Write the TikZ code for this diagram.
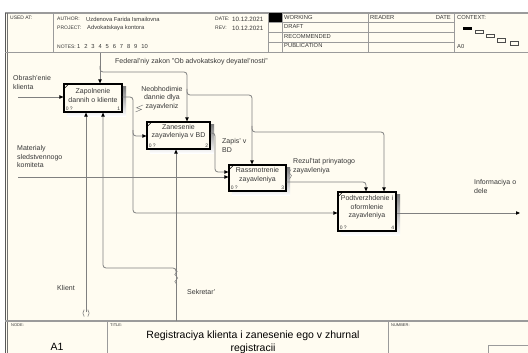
\documentclass[tikz,border=0pt]{standalone}
\usepackage{fontspec}
\setmainfont{Liberation Sans}
\usetikzlibrary{arrows.meta}
\pgfdeclarelayer{paperlayer}
\pgfdeclarelayer{shadelayer}
\pgfsetlayers{paperlayer,shadelayer,main}
\definecolor{paper}{RGB}{255,252,241}
\definecolor{wirec}{RGB}{128,128,128}
\definecolor{rulec}{RGB}{155,155,155}
\definecolor{shade}{RGB}{188,188,188}
\definecolor{ink}{RGB}{55,55,55}

\begin{document}
\begin{tikzpicture}[x=1pt,y=-1pt,
  wire/.style={draw=wirec, line width=0.8pt, rounded corners=3pt},
  flow/.style={wire, -{Triangle[length=4pt,width=3.4pt,color=black]}},
  act/.style={draw=black, line width=1.2pt, fill=paper, inner sep=0pt},
  acttext/.style={font=\fontsize{7}{8.5}\selectfont, align=center, inner sep=0pt, text=ink},
  tag/.style={font=\fontsize{5}{6}\selectfont, inner sep=0pt, text=ink},
  lbl/.style={font=\fontsize{7}{8.5}\selectfont, align=left, inner sep=0pt, text=ink},
  hdr/.style={font=\fontsize{5.8}{7}\selectfont, inner sep=0pt, text=ink, anchor=west},
  hdrkey/.style={font=\fontsize{5}{6}\selectfont, inner sep=0pt, text=ink, anchor=west},
  tinylbl/.style={font=\fontsize{4}{5}\selectfont, inner sep=0pt, text=ink, anchor=north west},
  grid/.style={draw=rulec, line width=0.6pt},
  squig/.style={draw=wirec, line width=0.5pt},
]
\useasboundingbox (0,0) rectangle (528,353);

% sheet
\begin{pgfonlayer}{paperlayer}
  \fill[white] (0,0) rectangle (528,353);
  \fill[paper] (5,13) rectangle (528,353);
\end{pgfonlayer}

% frame
\draw[draw=rulec, line width=1.4pt] (5,13) -- (528,13);
\draw[draw=black!65, line width=0.9pt] (5,13) -- (5,353);
\draw[draw=black!55, line width=0.5pt] (7.6,13) -- (7.6,353);

% header grid
\draw[grid] (5,52.5) -- (528,52.5);
\draw[grid] (53,13) -- (53,52.5);
\draw[grid] (268,13) -- (268,52.5);
\draw[grid] (282,13) -- (282,52.5);
\draw[grid] (368,13) -- (368,52.5);
\draw[grid] (454,13) -- (454,52.5);
\draw[grid] (268,22.5) -- (454,22.5);
\draw[grid] (268,32) -- (454,32);
\draw[grid] (268,42) -- (454,42);
\fill[black] (268.5,13.5) rectangle (281.5,22.3);

% header texts
\node[hdrkey] (usedat) at (10,18) {USED AT:};
\node[hdrkey] (author) at (57,19) {AUTHOR:};
\node[hdr] (authorv) at (86,19) {Uzdenova Farida Ismailovna};
\node[hdrkey] (project) at (57,28) {PROJECT:};
\node[hdr] (projectv) at (87,28) {Advokatskaya kontora};
\node[hdrkey] (notes) at (57,47) {NOTES:};
\node[hdr] (notesv) at (77,47) {1\hspace{3.9pt}2\hspace{3.9pt}3\hspace{3.9pt}4\hspace{3.9pt}5\hspace{3.9pt}6\hspace{3.9pt}7\hspace{3.9pt}8\hspace{3.9pt}9\hspace{3.9pt}10};
\node[hdrkey] (date) at (215,19) {DATE:};
\node[hdr, font=\fontsize{6.2}{7}\selectfont] (datev) at (232,19) {10.12.2021};
\node[hdrkey] (rev) at (215,28) {REV:};
\node[hdr, font=\fontsize{6.2}{7}\selectfont] (revv) at (232,28) {10.12.2021};
\node[hdr] (working) at (284,17.5) {WORKING};
\node[hdr] (draft) at (284,27) {DRAFT};
\node[hdr] (recom) at (284,36.5) {RECOMMENDED};
\node[hdr] (publ) at (284,46) {PUBLICATION};
\node[hdr] (reader) at (370,17.5) {READER};
\node[hdr, anchor=east] (rdate) at (451,17.5) {DATE};
\node[hdr] (context) at (457,17.5) {CONTEXT:};
\node[hdr] (a0) at (457,46.5) {A0};

% context map
\fill[black] (463.3,26.7) rectangle (472.3,29.6);
\draw[draw=black!70, line width=0.5pt] (475,30.2) rectangle (483,33.2);
\draw[draw=black!70, line width=0.5pt] (485.8,34.3) rectangle (494,37.3);
\draw[draw=black!70, line width=0.5pt] (497.3,38.5) rectangle (504.8,42.6);
\draw[draw=black!70, line width=0.5pt] (510,41.5) rectangle (518,45.6);

% footer
\draw[draw=rulec, line width=1.2pt] (5,321) -- (528,321);
\draw[grid] (107,321) -- (107,353);
\draw[grid] (388,321) -- (388,353);
\draw[grid] (488,345) rectangle (536,360);
\node[tinylbl] (nodelbl) at (11,323.5) {NODE:};
\node[tinylbl] (titlelbl) at (110,323.5) {TITLE:};
\node[tinylbl] (numberlbl) at (391,323.5) {NUMBER:};
\node[font=\fontsize{10.5}{12}\selectfont, inner sep=0pt, anchor=base] (nodeval) at (57,350) {A1};
\node[font=\fontsize{10.5}{12.5}\selectfont, inner sep=0pt, align=center, anchor=north] (title) at (253,330.8)
  {Registraciya klienta i zanesenie ego v zhurnal\\registracii};

% activities
\node[act, minimum width=58pt, minimum height=28pt] (b1) at (93,98) {};
\node[act, minimum width=63pt, minimum height=27pt] (b2) at (178.5,135.5) {};
\node[act, minimum width=57pt, minimum height=26pt] (b3) at (257.5,178) {};
\node[act, minimum width=58pt, minimum height=39pt] (b4) at (367,211.5) {};

\begin{pgfonlayer}{shadelayer}
  \foreach \b in {b1,b2,b3,b4}
    \fill[shade] ([shift={(3.5,3.5)}]\b.north west) rectangle ([shift={(3.5,3.5)}]\b.south east);
\end{pgfonlayer}

\foreach \b in {b1,b2,b3,b4}
  \draw[line width=0.6pt] ([shift={(1.5,4.5)}]\b.north west) -- ([shift={(4.5,1.5)}]\b.north west);

\node[acttext] (b1t) at (93,95.5) {Zapolnenie\\dannih o kliente};
\node[acttext] (b2t) at (178.5,131.5) {Zanesenie\\zayavleniya v BD};
\node[acttext] (b3t) at (257.5,175.3) {Rassmotrenie\\zayavleniya};
\node[acttext] (b4t) at (367,207.5) {Podtverzhdenie i\\oformlenie\\zayavleniya};

\foreach \b/\n in {b1/1,b2/2,b3/3,b4/4}{
  \node[tag, anchor=south west] (\b zero) at ([shift={(2.2,-1.6)}]\b.south west) {0 ?};
  \node[tag, anchor=south east] (\b num) at ([shift={(-2.2,-1.6)}]\b.south east) {\n};
}

% inputs
\coordinate (obr) at (18,97);
\draw[flow] (obr) -- (obr -| b1.west);
\coordinate (mat) at (18,177);
\draw[flow] (mat) -- (mat -| b3.west);

% controls
\coordinate (fed) at (100,53);
\draw[flow] (fed) -- (fed |- b1.north);
\coordinate (fa) at (100,66);
\coordinate (fb) at (187,72);
\draw[flow] (fa) -- (100,72) -- (fb) -- (fb |- b2.north);
\coordinate (fc) at (187,89);
\coordinate (fd) at (252,95);
\draw[flow] (fc) -- (187,95) -- (fd) -- (fd |- b3.north);
\coordinate (fe) at (252,126);
\coordinate (ff) at (384,132);
\draw[flow] (fe) -- (252,132) -- (ff) -- (ff |- b4.north);

% outputs of the activities
\draw[flow] (b1.east |- 0,97) -- (133,97) -- (133,213) -- (b4.west |- 0,213);
\draw[flow] (133,130) -- (133,136) -- (b2.west |- 0,136);
\draw[flow] (b2.east |- 0,133) -- (215,133) -- (215,172) -- (b3.west |- 0,172);
\coordinate (rz) at (366,182);
\draw[flow] (b3.east |- rz) -- (rz) -- (rz |- b4.north);
\coordinate (inf) at (520,213);
\draw[flow] (b4.east |- inf) -- (inf);

% mechanisms
\coordinate (kl) at (86,312);
\draw[flow] (kl) -- (kl |- b1.south);
\draw[draw=wirec, line width=0.6pt] (84.2,309.6) .. controls (82.4,311.6) and (82.4,314.6) .. (84.2,316.6);
\draw[draw=wirec, line width=0.6pt] (87.8,309.6) .. controls (89.6,311.6) and (89.6,314.6) .. (87.8,316.6);
\coordinate (sk) at (176,321);
\draw[flow] (sk) -- (sk |- b2.south);
\coordinate (sj) at (103,268);
\draw[flow] (176,274) -- (176,268) -- (sj) -- (sj |- b1.south);

% labels
\node[lbl, anchor=north west] (lobr) at (13,75.5) {Obrash'enie\\klienta};
\node[lbl, anchor=north west] (lmat) at (17,145.5) {Materialy\\sledstvennogo\\komiteta};
\node[lbl, anchor=north west] (lfed) at (115,58.5) {Federal'niy zakon "Ob advokatskoy deyatel'nosti"};
\node[lbl, anchor=north, align=center] (lneo) at (162,86) {Neobhodimie\\dannie dlya\\zayavleniz};
\node[lbl, anchor=north west] (lzap) at (222,138.5) {Zapis' v\\BD};
\node[lbl, anchor=north west] (lrez) at (293,158.5) {Rezul'tat prinyatogo\\zayavleniya};
\node[lbl, anchor=north west] (linf) at (474,179.5) {Informaciya o\\dele};
\node[lbl] (lkl) at (66,288) {Klient};
\node[lbl, anchor=west] (lsk) at (187,292) {Sekretar'};

% label squiggles
\draw[squig] (143,105) -- (136.5,107.8) -- (141.5,109.4) -- (135.5,112);
\draw[squig] (177.5,271) -- (174.8,274.5) -- (177.8,278) -- (174.8,281.5) -- (177,285);
\draw[squig] (291,169.5) -- (289,172.5) -- (291.5,175.5) -- (289.5,179);

\end{tikzpicture}
\end{document}
